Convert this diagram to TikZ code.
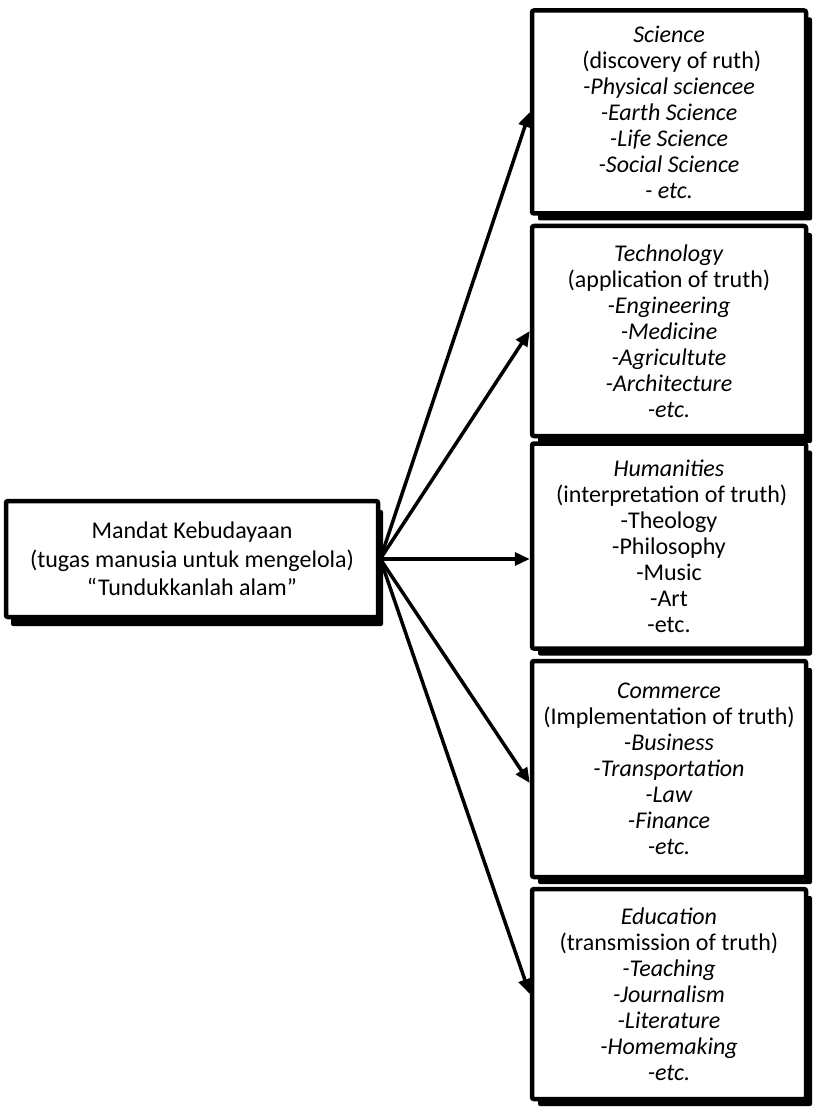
\documentclass[tikz,border=0pt]{standalone}
\usepackage{fontspec}
\setmainfont{Carlito}
\usetikzlibrary{arrows.meta,shadows}
\tikzset{
  field/.style={draw=black, line width=4.5pt, fill=white, rounded corners=2pt,
    align=center, inner sep=0pt, minimum width=274pt, minimum height=#1,
    font=\fontsize{24}{26}\selectfont,
    drop shadow={shadow xshift=6pt, shadow yshift=-7pt, fill=black, opacity=1}},
  tugas/.style={draw=black, line width=4.5pt, fill=white, rounded corners=2pt,
    align=center, inner sep=0pt, minimum width=372pt, minimum height=116pt,
    font=\fontsize{24}{28.4}\selectfont,
    drop shadow={shadow xshift=5pt, shadow yshift=-9pt, fill=black, opacity=1}},
  panah/.style={line width=3.5pt, -{Triangle[length=15pt,width=13pt]}}
}
\begin{document}
\begin{tikzpicture}[x=1pt,y=1pt]
\useasboundingbox (0,0) rectangle (816,-1115);
\node[tugas] (mandat) at (192,-559) {Mandat Kebudayaan\\(tugas manusia untuk mengelola)\\“Tundukkanlah alam”};
\node[field=203pt] (science) at (669,-112) {\textit{Science}\\ \ (discovery of ruth)\\\textit{-Physical sciencee}\\\textit{-Earth Science}\\\textit{-Life Science}\\\textit{-Social Science}\\\textit{- etc.}};
\node[field=210pt] (technology) at (669,-331) {\textit{Technology}\\(application of truth)\\\textit{-Engineering}\\\textit{-Medicine}\\\textit{-Agricultute}\\\textit{-Architecture}\\\textit{-etc.}};
\node[field=205pt] (humanities) at (669,-546) {\textit{Humanities}\\ \ (interpretation of truth)\\-Theology\\-Philosophy\\-Music\\-Art\\-etc.};
\node[field=216pt] (commerce) at (669,-769) {\textit{Commerce}\\(Implementation of truth)\\\textit{-Business}\\\textit{-Transportation}\\\textit{-Law}\\\textit{-Finance}\\\textit{-etc.}};
\node[field=210pt] (education) at (669,-994) {\textit{Education}\\(transmission of truth)\\\textit{-Teaching}\\\textit{-Journalism}\\\textit{-Literature}\\\textit{-Homemaking}\\\textit{-etc.}};
% arrows from the left box
\draw[panah] (mandat.east) -- (science.west);
\draw[panah] (mandat.east) -- (technology.west);
\draw[panah] (mandat.east) -- (mandat.east -| humanities.west);
\draw[panah] (mandat.east) -- ([yshift=-14pt]commerce.west);
\draw[panah] (mandat.east) -- (education.west);
\end{tikzpicture}
\end{document}
